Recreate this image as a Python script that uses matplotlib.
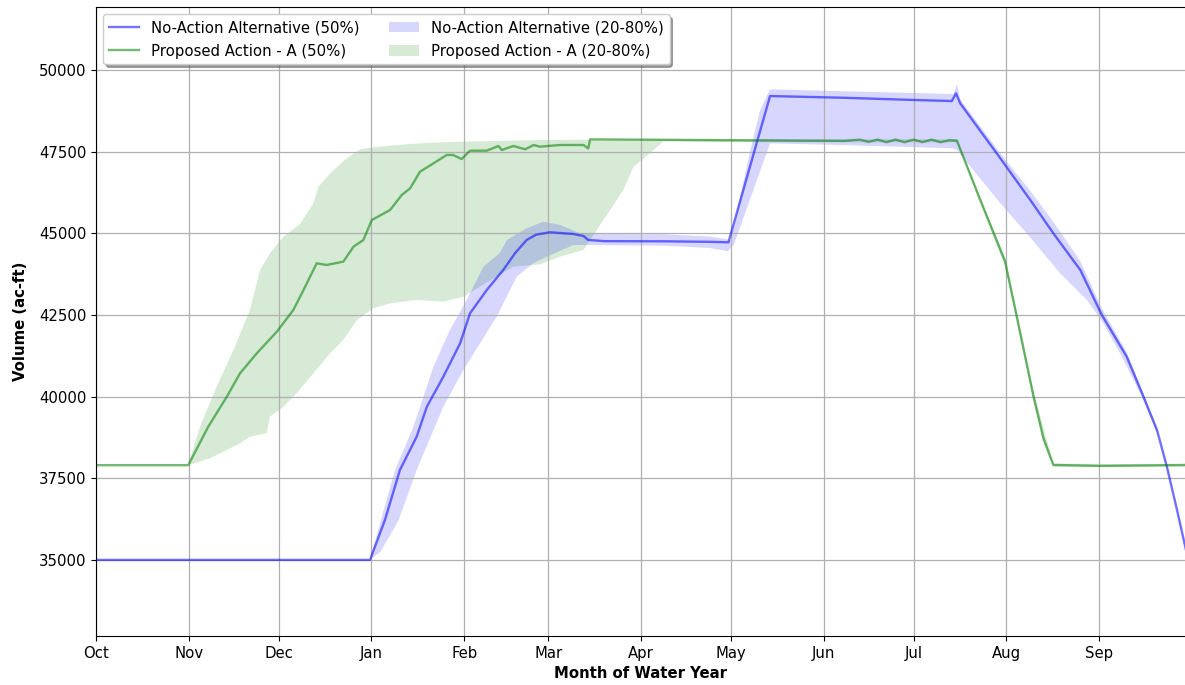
import numpy as np
import matplotlib
matplotlib.use("Agg")
import matplotlib.pyplot as plt

plt.rcParams["font.size"] = 10.7

# Month ticks (day of water year, Oct 1 = 0)
month_days = [0, 31, 61, 92, 123, 151, 182, 212, 243, 273, 304, 335]
month_labels = ["Oct", "Nov", "Dec", "Jan", "Feb", "Mar", "Apr", "May",
                "Jun", "Jul", "Aug", "Sep"]

# No-Action Alternative, median
na_med_d = [0, 91.5, 96.5, 101.5, 107.1, 110.5, 116, 121.6, 124.9, 130.5, 136, 140,
            143.8, 147, 151.6, 159.4, 162.8, 164.4, 170, 190, 205, 211.2, 225.1, 250,
            273.5, 285.8, 287.2, 288.6, 302, 312, 319.7, 328.7, 335.9, 344.2, 349.8,
            354.3, 357.6, 361, 364]
na_med_v = [35000, 35000, 36225, 37755, 38775, 39693, 40612, 41633, 42551, 43265, 43878, 44400,
            44796, 44960, 45031, 44980, 44918, 44796, 44760, 44755, 44740, 44725, 49204, 49150,
            49082, 49051, 49286, 48980, 47296, 46020, 45000, 43878, 42500, 41224, 40000,
            38980, 37857, 36531, 35300]

# No-Action Alternative, 80% (upper) and 20% (lower)
na_hi_d = [0, 91.5, 96, 99.9, 106, 112.7, 118.2, 123.8, 129.4, 134.9, 137.2, 143.8, 149.4,
           155, 161.7, 164.4, 190, 205, 212, 218.4, 221.8, 225.1, 250, 286.4, 287.5, 288.6,
           302, 312, 319.7, 328.7, 335.9, 344.2, 349.8, 354.3, 357.6, 361, 364]
na_hi_v = [35000, 35000, 36500, 37755, 39081, 40918, 42041, 42959, 43980, 44400, 44796, 45153, 45357,
           45255, 45000, 44980, 44970, 44900, 44800, 47500, 48776, 49408, 49350, 49265, 49571, 49100,
           47450, 46300, 45350, 44150, 42700, 41350, 40080, 39020, 37880, 36550, 35320]
na_lo_d = [0, 91.5, 95, 101, 107.1, 116, 122.7, 133.8, 140.5, 146, 151.6, 159.4, 164.4, 190,
           205, 211, 213, 225.1, 250, 286.4, 287.5, 302, 310.8, 322, 330.9, 336.4, 342, 348.7,
           355.4, 358, 361, 364]
na_lo_v = [35000, 35000, 35250, 36200, 37755, 39693, 40816, 42449, 43673, 44082, 44330, 44643, 44643, 44620,
           44550, 44450, 44650, 47755, 47700, 47602, 47551, 45919, 45000, 43776, 42959, 42245, 41327, 40102,
           38673, 37800, 36500, 35280]

# Proposed Action - A, median
pa_med_d = [0, 30.8, 37.5, 43.7, 48.1, 53.7, 60.4, 65.9, 69.3, 73.7, 77, 82.6, 86, 89.3, 92.1,
            98.2, 102.1, 104.9, 108.2, 112.7, 117.1, 119.3, 122.1, 124.9, 130.5, 134.4, 135.5,
            139.4, 143.3, 146.1, 148.3, 155, 162.8, 164.4, 165, 212, 250, 255, 258, 261, 264,
            267, 270, 273, 276, 279, 282, 285, 287.5, 295.3, 303.6, 307.5, 313.1, 316.4, 319.7,
            335.3, 364]
pa_med_v = [37900, 37900, 39081, 40000, 40714, 41327, 41990, 42653, 43265, 44082, 44031, 44133, 44592, 44796, 45408,
            45714, 46173, 46378, 46888, 47143, 47398, 47398, 47275, 47531, 47531, 47674, 47551,
            47674, 47572, 47704, 47653, 47704, 47704, 47602, 47878, 47850, 47830, 47870, 47800, 47870, 47790,
            47870, 47790, 47870, 47790, 47870, 47790, 47850, 47837, 46020, 44133, 42449, 40000, 38724, 37908,
            37878, 37908]

# Proposed Action - A, 80% (upper) and 20% (lower)
pa_hi_d = [0, 30.8, 34.7, 40.3, 45.9, 51.4, 54.8, 58.1, 62.6, 68.1, 72.6, 74.3, 78.2, 83.7, 88.2,
           92.6, 100.4, 111.6, 122.7, 148.3, 190, 287.5, 295.3, 303.6, 313.1, 319.7, 364]
pa_hi_v = [37900, 37900, 39081, 40306, 41429, 42653, 43878, 44388, 44898, 45280, 45918, 46429, 46837, 47296, 47572,
           47633, 47704, 47776, 47806, 47857, 47880, 47880, 46100, 44250, 40150, 37950, 37920]
pa_lo_d = [0, 30.8, 38.1, 43.7, 48.1, 51.4, 57, 58.1, 62.6, 67, 72.6, 78.2, 82.6, 87.1, 92.6,
           98.2, 107.1, 116, 122.7, 139.4, 148.3, 155, 162.8, 167.2, 171.7, 176.1, 179.5, 185,
           189.5, 212, 287.5, 295.3, 303.6, 313.1, 316.4, 319.7, 364]
pa_lo_v = [37900, 37900, 38112, 38367, 38571, 38776, 38878, 39388, 39694, 40102, 40714, 41327, 41735, 42347, 42704,
           42857, 42959, 42908, 43061, 43980, 44050, 44286, 44490, 45102, 45714, 46327, 47041, 47449,
           47820, 47790, 47790, 45950, 44000, 39850, 38600, 37850, 37850]

fig = plt.figure(figsize=(11.85, 6.85), dpi=100)
ax = fig.add_axes([96 / 1185, 1 - 636 / 685, 1090 / 1185, 629 / 685])

band_pa = ax.fill(pa_hi_d + pa_lo_d[::-1], pa_hi_v + pa_lo_v[::-1],
                  color="green", alpha=0.16, lw=0, label="Proposed Action - A (20-80%)")[0]
band_na = ax.fill(na_hi_d + na_lo_d[::-1], na_hi_v + na_lo_v[::-1],
                  color="blue", alpha=0.16, lw=0, label="No-Action Alternative (20-80%)")[0]
line_na, = ax.plot(na_med_d, na_med_v, color="blue", alpha=0.55, lw=1.7,
                   label="No-Action Alternative (50%)")
line_pa, = ax.plot(pa_med_d, pa_med_v, color="green", alpha=0.55, lw=1.7,
                   label="Proposed Action - A (50%)")

ax.set_xlim(0, 364)
ax.set_ylim(32670, 51930)
ax.set_xticks(month_days)
ax.set_xticklabels(month_labels)
ax.set_yticks([35000, 37500, 40000, 42500, 45000, 47500, 50000])
ax.grid(True, color="#b0b0b0", lw=0.9)

ax.set_xlabel("Month of Water Year", fontweight="bold")
ax.set_ylabel("Volume (ac-ft)", fontweight="bold", labelpad=8)

ax.legend(handles=[line_na, line_pa, band_na, band_pa], loc="upper left", ncol=2,
          shadow=True, labelspacing=0.55)

fig.savefig("out.png", dpi=100)
